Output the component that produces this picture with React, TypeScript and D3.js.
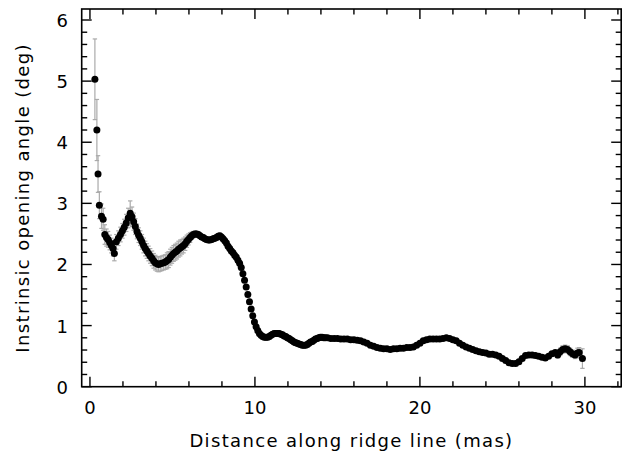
import React from "react";
import * as d3 from "d3";

const distance = [
  0.30,0.42,0.49,0.57,0.70,0.80,0.90,1.00,1.10,1.20,
  1.30,1.40,1.48,1.60,1.72,1.85,1.97,2.08,2.20,2.32,
  2.44,2.55,2.65,2.75,2.85,2.95,3.05,3.15,3.25,3.35,
  3.45,3.55,3.65,3.76,3.86,3.96,4.06,4.16,4.26,4.36,
  4.47,4.57,4.67,4.77,4.87,4.97,5.07,5.17,5.27,5.37,
  5.47,5.57,5.67,5.77,5.87,5.97,6.07,6.17,6.27,6.37,
  6.47,6.57,6.67,6.77,6.87,6.97,7.07,7.17,7.27,7.37,
  7.47,7.57,7.67,7.77,7.87,7.97,8.07,8.17,8.27,8.37,
  8.47,8.57,8.67,8.77,8.87,8.97,9.07,9.17,9.27,9.37,
  9.47,9.57,9.67,9.77,9.87,9.97,10.07,10.17,10.27,10.37,
  10.47,10.57,10.67,10.77,10.87,10.97,11.07,11.17,11.27,11.37,
  11.47,11.57,11.67,11.77,11.87,11.97,12.07,12.17,12.27,12.37,
  12.47,12.57,12.67,12.77,12.87,12.97,13.07,13.17,13.27,13.37,
  13.47,13.57,13.67,13.77,13.87,13.97,14.07,14.17,14.27,
  14.4,14.6,14.8,15.0,15.2,15.4,15.6,15.8,16.0,16.2,
  16.4,16.6,16.8,17.0,17.2,17.4,17.6,17.8,18.0,18.2,
  18.4,18.6,18.8,19.0,19.2,19.4,19.6,19.8,20.0,20.2,
  20.4,20.6,20.8,21.0,21.2,21.4,21.6,21.8,22.0,22.2,
  22.4,22.6,22.8,23.0,23.2,23.4,23.6,23.8,24.0,24.2,
  24.4,24.6,24.8,25.0,25.2,25.4,25.6,25.8,26.0,26.2,
  26.4,26.6,26.8,27.0,27.2,27.4,27.6,27.8,28.0,28.2,
  28.35,28.5,28.65,28.8,28.95,29.1,29.25,29.4,29.55,29.65,
  29.85,
];

const angle = [
  5.03,4.20,3.48,2.97,2.79,2.74,2.49,2.44,2.41,2.36,
  2.31,2.26,2.18,2.37,2.43,2.49,2.55,2.61,2.68,2.76,
  2.84,2.78,2.70,2.62,2.54,2.48,2.43,2.37,2.31,2.26,
  2.22,2.18,2.14,2.10,2.06,2.03,2.01,2.00,2.01,2.02,
  2.03,2.04,2.06,2.08,2.12,2.15,2.18,2.20,2.22,2.25,
  2.27,2.29,2.31,2.34,2.38,2.41,2.44,2.47,2.49,2.50,
  2.50,2.49,2.47,2.45,2.44,2.42,2.41,2.40,2.40,2.41,
  2.42,2.43,2.44,2.46,2.47,2.45,2.42,2.39,2.35,2.30,
  2.26,2.22,2.19,2.15,2.12,2.07,2.02,1.95,1.85,1.74,
  1.63,1.51,1.39,1.27,1.16,1.06,0.98,0.92,0.87,0.84,
  0.82,0.81,0.81,0.81,0.82,0.84,0.86,0.87,0.87,0.87,
  0.87,0.86,0.85,0.83,0.82,0.80,0.79,0.77,0.75,0.73,
  0.72,0.71,0.70,0.69,0.68,0.68,0.68,0.69,0.71,0.73,
  0.74,0.76,0.78,0.79,0.80,0.81,0.81,0.80,0.80,
  0.80,0.79,0.79,0.79,0.78,0.78,0.78,0.77,0.77,0.76,
  0.75,0.73,0.71,0.68,0.66,0.64,0.63,0.62,0.62,0.61,
  0.62,0.62,0.63,0.63,0.64,0.64,0.65,0.68,0.71,0.75,
  0.77,0.78,0.78,0.78,0.78,0.79,0.80,0.79,0.77,0.75,
  0.71,0.68,0.65,0.63,0.61,0.59,0.57,0.56,0.55,0.53,
  0.53,0.52,0.50,0.46,0.43,0.39,0.38,0.38,0.41,0.46,
  0.51,0.52,0.52,0.51,0.50,0.48,0.47,0.50,0.54,0.56,
  0.52,0.57,0.61,0.62,0.61,0.57,0.54,0.52,0.55,0.56,
  0.46,
];

const angleErr = [
  0.66,0.50,0.30,0.22,0.20,0.18,0.16,0.14,0.13,0.12,
  0.12,0.12,0.12,0.12,0.12,0.12,0.12,0.13,0.14,0.16,
  0.20,0.16,0.14,0.13,0.12,0.12,0.12,0.12,0.12,0.12,
  0.12,0.12,0.12,0.12,0.12,0.12,0.12,0.12,0.12,0.12,
  0.12,0.12,0.13,0.13,0.13,0.13,0.13,0.13,0.13,0.13,
  0.13,0.12,0.12,0.11,0.10,0.09,0.08,0.06,0.05,0.05,
  0.04,0.04,0.04,0.04,0.04,0.04,0.04,0.04,0.04,0.04,
  0.04,0.04,0.04,0.04,0.04,0.04,0.04,0.04,0.04,0.04,
  0.04,0.04,0.04,0.04,0.04,0.04,0.04,0.04,0.04,0.04,
  0.04,0.04,0.04,0.04,0.04,0.04,0.04,0.04,0.04,0.04,
  0.04,0.04,0.04,0.04,0.04,0.04,0.04,0.04,0.04,0.04,
  0.04,0.04,0.04,0.04,0.04,0.04,0.04,0.04,0.04,0.04,
  0.04,0.04,0.04,0.04,0.04,0.04,0.04,0.04,0.04,0.04,
  0.04,0.04,0.04,0.04,0.04,0.04,0.04,0.04,0.04,
  0.03,0.03,0.03,0.03,0.03,0.03,0.03,0.03,0.03,0.03,
  0.03,0.03,0.03,0.03,0.03,0.03,0.03,0.03,0.03,0.03,
  0.03,0.03,0.03,0.03,0.03,0.03,0.03,0.03,0.03,0.03,
  0.03,0.03,0.03,0.03,0.03,0.03,0.03,0.03,0.03,0.03,
  0.03,0.03,0.03,0.03,0.03,0.03,0.03,0.03,0.03,0.03,
  0.03,0.03,0.03,0.03,0.03,0.03,0.03,0.03,0.03,0.03,
  0.03,0.03,0.03,0.03,0.03,0.03,0.03,0.03,0.03,0.03,
  0.05,0.06,0.06,0.06,0.06,0.06,0.06,0.06,0.08,0.08,
  0.16,
];

const xMajorTicks = [0, 10, 20, 30];
const xMinorTicks = [2, 4, 6, 8, 12, 14, 16, 18, 22, 24, 26, 28, 32];
const yMajorTicks = [0, 1, 2, 3, 4, 5, 6];
const yMinorTicks = d3.range(0, 31).map((i) => i * 0.2).filter((v) => Math.abs(v - Math.round(v)) > 1e-6);

const xLabel = "Distance along ridge line (mas)";
const yLabel = "Instrinsic opening angle (deg)";

const W = 630;
const H = 454;
const left = 81.7;
const right = 621.2;
const top = 9;
const bottom = 386.7;

export default function App() {
  const x = d3.scaleLinear().domain([-0.5, 32.2]).range([left, right]);
  const y = d3.scaleLinear().domain([0, 6.18]).range([bottom, top]);
  const font = "'DejaVu Sans', sans-serif";
  const majorLen = 10;
  const minorLen = 5.5;
  const errColor = "#aaaaaa";
  const cap = 2.2;
  const cxMid = (left + right) / 2;
  const cyMid = (top + bottom) / 2;

  return (
    <svg width={W} height={H} style={{ position: "absolute", left: 0, top: 0, background: "#fff" }}>
      <rect x={0} y={0} width={W} height={H} fill="#fff" />
      <g stroke={errColor} strokeWidth={1.2}>
        {distance.map((d, i) => {
          const cx = x(d);
          const y1 = y(angle[i] + angleErr[i]);
          const y2 = y(angle[i] - angleErr[i]);
          return (
            <g key={"e" + i}>
              <line x1={cx} x2={cx} y1={y1} y2={y2} />
              <line x1={cx - cap} x2={cx + cap} y1={y1} y2={y1} />
              <line x1={cx - cap} x2={cx + cap} y1={y2} y2={y2} />
            </g>
          );
        })}
      </g>
      <g fill="#000">
        {distance.map((d, i) => (
          <circle key={"p" + i} cx={x(d)} cy={y(angle[i])} r={3.5} />
        ))}
      </g>
      <rect x={left} y={top} width={right - left} height={bottom - top} fill="none" stroke="#000" strokeWidth={1.6} />
      <g stroke="#000" strokeWidth={1.4}>
        {xMajorTicks.map((t) => (
          <g key={"xM" + t}>
            <line x1={x(t)} x2={x(t)} y1={bottom} y2={bottom - majorLen} />
            <line x1={x(t)} x2={x(t)} y1={top} y2={top + majorLen} />
          </g>
        ))}
        {xMinorTicks.map((t) => (
          <g key={"xm" + t}>
            <line x1={x(t)} x2={x(t)} y1={bottom} y2={bottom - minorLen} />
            <line x1={x(t)} x2={x(t)} y1={top} y2={top + minorLen} />
          </g>
        ))}
        {yMajorTicks.map((t) => (
          <g key={"yM" + t}>
            <line x1={left} x2={left + majorLen} y1={y(t)} y2={y(t)} />
            <line x1={right} x2={right - majorLen} y1={y(t)} y2={y(t)} />
          </g>
        ))}
        {yMinorTicks.map((t) => (
          <g key={"ym" + t}>
            <line x1={left} x2={left + minorLen} y1={y(t)} y2={y(t)} />
            <line x1={right} x2={right - minorLen} y1={y(t)} y2={y(t)} />
          </g>
        ))}
      </g>
      <g fontFamily={font} fontSize={18} fill="#000">
        {xMajorTicks.map((t) => (
          <text key={"xl" + t} x={x(t)} y={413.5} textAnchor="middle">
            {t}
          </text>
        ))}
        {yMajorTicks.map((t) => (
          <text key={"yl" + t} x={68} y={y(t) + 7} textAnchor="end">
            {t}
          </text>
        ))}
      </g>
      <text x={cxMid} y={447} textAnchor="middle" fontFamily={font} fontSize={18} letterSpacing={1.35} fill="#000">
        {xLabel}
      </text>
      <text
        transform={`translate(29,${cyMid}) rotate(-90)`}
        textAnchor="middle"
        fontFamily={font}
        fontSize={18}
        letterSpacing={1.35}
        fill="#000"
      >
        {yLabel}
      </text>
    </svg>
  );
}
